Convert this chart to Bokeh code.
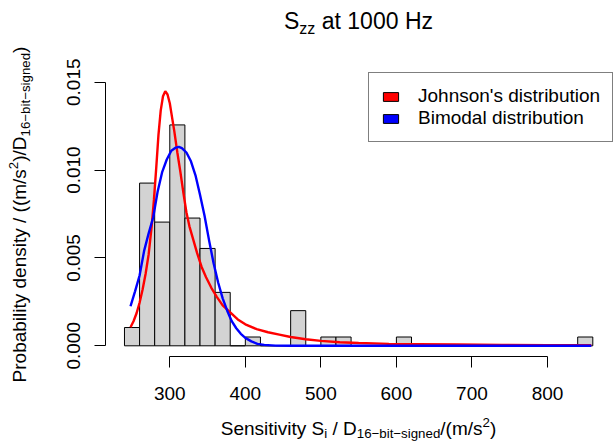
import math
from bokeh.plotting import figure
from bokeh.models import (ColumnDataSource, FixedTicker, Label, Legend, LegendItem,
                          Range1d, PrintfTickFormatter, LinearAxis)
from bokeh.embed import file_html
from bokeh.resources import INLINE

# ---------------- data ----------------
bin_left = [240, 260, 280, 300, 320, 340, 360, 380, 400, 420, 440, 460, 480, 500, 520, 540,
            560, 580, 600, 620, 640, 660, 680, 700, 720, 740, 760, 780, 800, 820, 840]
bin_right = [260, 280, 300, 320, 340, 360, 380, 400, 420, 440, 460, 480, 500, 520, 540, 560,
             580, 600, 620, 640, 660, 680, 700, 720, 740, 760, 780, 800, 820, 840, 860]
density = [0.00104, 0.00926, 0.00704, 0.01257, 0.00727, 0.00554, 0.00304, 0.0, 0.0005, 0.0,
           0.0, 0.0020, 0.0, 0.0005, 0.0005, 0.0, 0.0, 0.0, 0.0005, 0.0, 0.0, 0.0, 0.0, 0.0,
           0.0, 0.0, 0.0, 0.0, 0.0, 0.0, 0.0005]

johnson_x = [248, 252, 256, 260, 264, 268, 272, 276, 279, 282, 285, 288, 291, 294, 297, 300,
             303, 306, 310, 314, 318, 322, 326, 330, 336, 342, 348, 355, 362, 370, 380, 390,
             400, 415, 430, 445, 460, 480, 500, 525, 550, 590, 630, 680, 740, 800, 858]
johnson_y = [0.00106, 0.00140, 0.00185, 0.00245, 0.0032, 0.0041, 0.0052, 0.0068, 0.0083,
             0.0101, 0.0120, 0.0134, 0.0142, 0.01449, 0.0143, 0.0138, 0.0130, 0.0122, 0.0110,
             0.0099, 0.0087, 0.0076, 0.0068, 0.0062, 0.0053, 0.0045, 0.0039, 0.0033, 0.0028,
             0.0023, 0.0019, 0.0015, 0.00122, 0.00095, 0.00077, 0.00064, 0.00050, 0.00037,
             0.00028, 0.00020, 0.00016, 0.00011, 0.00009, 0.00007, 0.00005, 0.00004, 0.00003]

bimodal_x = [248, 254, 260, 266, 272, 278, 284, 290, 296, 302, 308, 312, 316, 322, 328, 334,
             340, 346, 352, 358, 364, 370, 376, 382, 388, 394, 400, 408, 416, 425, 440, 460,
             500, 600, 700, 800, 858]
bimodal_y = [0.00225, 0.0031, 0.0040, 0.0054, 0.0064, 0.0073, 0.0088, 0.0099, 0.0106, 0.0111,
             0.01128, 0.01132, 0.01125, 0.0110, 0.0105, 0.0097, 0.0086, 0.0074, 0.0060, 0.0047,
             0.0036, 0.0027, 0.0020, 0.0014, 0.0010, 0.00068, 0.00045, 0.00025, 0.00011,
             0.00005, 0.00001, 0.0, 0.0, 0.0, 0.0, 0.0, 0.0]

x_ticks = [300, 400, 500, 600, 700, 800]
y_ticks = [0.0, 0.005, 0.010, 0.015]
y_tick_labels = ["0.000", "0.005", "0.010", "0.015"]
legend_labels = ["Johnson's distribution", "Bimodal distribution"]

# ---------------- layout ----------------
FONT = "Liberation Sans"
W, H = 613, 441
# whole canvas is the frame; the R-style axes sit at fixed locations inside it
X0, X1 = 75.88, 887.4          # data x at canvas left / right edge
Y0, Y1 = -0.005446, 0.019650   # data y at canvas bottom / top edge
AX_X = 215.2                   # where the y axis line sits (plot-region left)
AX_Y = -0.0006                 # where the x axis line sits (plot-region bottom)

p = figure(width=W, height=H, output_backend="svg", toolbar_location=None,
           x_range=Range1d(X0, X1), y_range=Range1d(Y0, Y1),
           min_border=0, x_axis_location=None, y_axis_location=None)
p.outline_line_color = None
p.xgrid.visible = False
p.ygrid.visible = False
p.background_fill_color = "white"
p.border_fill_color = "white"

hist_src = ColumnDataSource(dict(left=bin_left, right=bin_right, top=density,
                                 bottom=[0.0] * len(density)))
p.quad(left="left", right="right", top="top", bottom="bottom", source=hist_src,
       fill_color="#D3D3D3", line_color="black", line_width=1)

p.line(johnson_x, johnson_y, line_color="#FF0000", line_width=2.4)
p.line(bimodal_x, bimodal_y, line_color="#0000FF", line_width=2.4)

# legend proxies (one NaN row so the legend glyph is drawn, nothing in the plot)
nan = float("nan")
r_red = p.quad(left=[nan], right=[nan], top=[nan], bottom=[nan], fill_color="#FF0000",
               line_color="black", line_width=1)
r_blue = p.quad(left=[nan], right=[nan], top=[nan], bottom=[nan], fill_color="#0000FF",
                line_color="black", line_width=1)
legend = Legend(items=[LegendItem(label=legend_labels[0], renderers=[r_red]),
                       LegendItem(label=legend_labels[1], renderers=[r_blue])],
                location=(368, H - 142), margin=0, padding=12, spacing=0,
                glyph_width=19, glyph_height=11, label_standoff=18, label_height=10,
                label_text_line_height=0.97,
                label_text_font=FONT, label_text_font_size="19px", label_text_color="black",
                border_line_color="black", border_line_width=1, background_fill_color="white",
                background_fill_alpha=1.0)
p.add_layout(legend, "center")

# axes
xaxis = LinearAxis(fixed_location=AX_Y, ticker=FixedTicker(ticks=x_ticks),
                   bounds=(x_ticks[0], x_ticks[-1]))
yaxis = LinearAxis(fixed_location=AX_X, ticker=FixedTicker(ticks=y_ticks),
                   bounds=(y_ticks[0], y_ticks[-1]),
                   formatter=PrintfTickFormatter(format="%.3f"))
yaxis.major_label_overrides = dict(zip(y_ticks, y_tick_labels))
yaxis.major_label_orientation = "vertical"
for ax, stand in ((xaxis, 20), (yaxis, 15)):
    ax.axis_line_color = "black"
    ax.axis_line_width = 1
    ax.major_tick_line_color = "black"
    ax.major_tick_out = 11
    ax.major_tick_in = 0
    ax.minor_tick_out = 0
    ax.minor_tick_in = 0
    ax.minor_tick_line_color = None
    ax.major_label_text_font = FONT
    ax.major_label_text_font_size = "19px"
    ax.major_label_text_color = "black"
    ax.major_label_standoff = stand
p.add_layout(xaxis, "below")
p.add_layout(yaxis, "left")

# ---------------- texts with sub/superscripts ----------------
AW = {' ': 278, 'a': 556, 'b': 556, 'd': 556, 'e': 556, 'g': 556, 'i': 222, 'l': 222,
      'm': 833, 'n': 556, 'o': 556, 'r': 333, 's': 500, 't': 278, 'v': 500, 'y': 500,
      'z': 500, 'S': 667, 'H': 722, 'D': 722, 'P': 667, '/': 278, '(': 333, ')': 333,
      '0': 556, '1': 556, '2': 556, '6': 556, '\u2212': 584}


def tw(s, size):
    return sum(AW.get(c, 556) for c in s) * size / 1000.0


def put(text, px, py, size, angle=0.0):
    # px, py: start of the text baseline (canvas pixels, y down)
    if angle == 0.0:
        sx, sy = px, H - (py - 0.35 * size)
    else:
        sx, sy = px - 0.35 * size, H - py
    p.add_layout(Label(x=sx, y=sy, x_units="screen", y_units="screen", text=text,
                       text_font=FONT, text_font_size=f"{size}px", text_color="black",
                       text_align="left", text_baseline="middle", angle=angle))


def run_h(pieces, x0, base):
    x = x0
    for s, size, dy in pieces:
        lead = len(s) - len(s.lstrip(" "))
        put(s.strip(" "), x + tw(" " * lead, size), base + dy, size)
        x += tw(s, size)


def run_v(pieces, xbase, y0):
    y = y0
    for s, size, dx in pieces:
        lead = len(s) - len(s.lstrip(" "))
        put(s.strip(" "), xbase + dx, y - tw(" " * lead, size), size, angle=math.pi / 2)
        y -= tw(s, size)


BIG, SUB, TSZ, TSUB = 19, 13.3, 23, 16
title_pieces = [("S", TSZ, 0), ("zz", TSUB, 5), (" at 1000 Hz", TSZ, 0)]
tw_title = sum(tw(s, z) for s, z, _ in title_pieces)
run_h(title_pieces, 358 - tw_title / 2, 28.5)

xlab_pieces = [("Sensitivity S", BIG, 0), ("i", SUB, 3), (" / D", BIG, 0),
               ("16\u2212bit\u2212signed", SUB, 3), ("/(m/s", BIG, 0), ("2", SUB, -8),
               (")", BIG, 0)]
tw_x = sum(tw(s, z) for s, z, _ in xlab_pieces)
run_h(xlab_pieces, 358 - tw_x / 2, 434.5)

ylab_pieces = [("Probability density / ((m/s", BIG, 0), ("2", SUB, -8), (")/D", BIG, 0),
               ("16\u2212bit\u2212signed", SUB, 4), (")", BIG, 0)]
tw_y = sum(tw(s, z) for s, z, _ in ylab_pieces)
run_v(ylab_pieces, 25.5, 214 + tw_y / 2)

open("out.html", "w").write(file_html(p, INLINE))
